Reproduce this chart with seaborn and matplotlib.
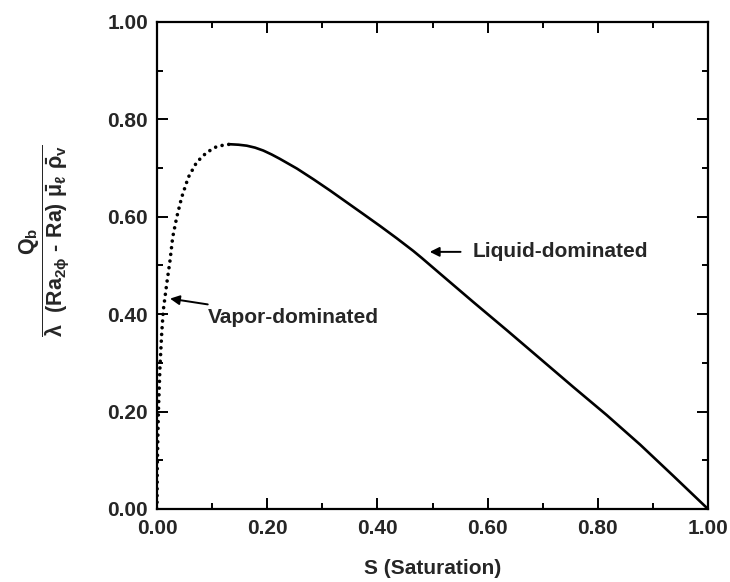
import matplotlib
matplotlib.use("Agg")
import matplotlib.pyplot as plt
import seaborn as sns
import numpy as np
import pandas as pd
from matplotlib.ticker import MultipleLocator, FormatStrFormatter

# ---- data ----
s_vapor = [0.0, 0.0005, 0.0024, 0.0054, 0.0085, 0.0114, 0.0176, 0.0236, 0.0285,
           0.0358, 0.0448, 0.0568, 0.072, 0.090, 0.108, 0.120, 0.132]
q_vapor = [0.0, 0.087, 0.196, 0.292, 0.360, 0.408, 0.462, 0.510, 0.558,
           0.599, 0.640, 0.681, 0.712, 0.732, 0.744, 0.747, 0.749]
s_liquid = [0.132, 0.148, 0.163, 0.178, 0.193, 0.208, 0.223, 0.254, 0.284,
            0.314, 0.344, 0.374, 0.405, 0.435, 0.465, 0.48, 0.514, 0.574,
            0.635, 0.695, 0.756, 0.816, 0.877, 0.937, 1.0]
q_liquid = [0.749, 0.748, 0.746, 0.742, 0.736, 0.728, 0.719, 0.699, 0.677,
            0.654, 0.630, 0.606, 0.581, 0.556, 0.530, 0.516, 0.483, 0.425,
            0.367, 0.309, 0.250, 0.193, 0.132, 0.068, 0.0]

x_label = "S (Saturation)"
y_label = (r"$\dfrac{Q_b}{\lambda\ \ (Ra_{2\phi}\ \text{-}\ Ra)\ "
           r"\bar{\mu}_\ell\ \bar{\rho}_v}$")
vapor_text = "Vapor-dominated"
liquid_text = "Liquid-dominated"

sns.set_style("ticks")
plt.rcParams["font.family"] = ["Liberation Sans", "DejaVu Sans"]
plt.rcParams["font.weight"] = "bold"
plt.rcParams["mathtext.fontset"] = "custom"
plt.rcParams["mathtext.rm"] = "Liberation Sans:bold"
plt.rcParams["mathtext.it"] = "Liberation Sans:bold"
plt.rcParams["mathtext.bf"] = "Liberation Sans:bold"

df_v = pd.DataFrame({"S": s_vapor, "Q": q_vapor})
df_l = pd.DataFrame({"S": s_liquid, "Q": q_liquid})

fig = plt.figure(figsize=(7.30, 5.82), dpi=100)
ax = fig.add_axes([157 / 730, 1 - 509 / 582, 551 / 730, 487 / 582])

sns.lineplot(data=df_v, x="S", y="Q", ax=ax, color="black", sort=False,
             estimator=None, linewidth=2.6, linestyle=(0, (0.01, 1.85)),
             dash_capstyle="round")
sns.lineplot(data=df_l, x="S", y="Q", ax=ax, color="black", sort=False,
             estimator=None, linewidth=1.9, solid_capstyle="round",
             solid_joinstyle="round")

ax.set_xlim(0, 1)
ax.set_ylim(0, 1)
ax.xaxis.set_major_locator(MultipleLocator(0.2))
ax.xaxis.set_minor_locator(MultipleLocator(0.1))
ax.yaxis.set_major_locator(MultipleLocator(0.2))
ax.yaxis.set_minor_locator(MultipleLocator(0.1))
ax.xaxis.set_major_formatter(FormatStrFormatter("%.2f"))
ax.yaxis.set_major_formatter(FormatStrFormatter("%.2f"))
ax.tick_params(which="both", direction="in", top=True, right=True,
               width=1.4, color="black")
ax.tick_params(which="major", length=8, labelsize=15, pad=6.5)
ax.tick_params(which="minor", length=4.5)
ax.tick_params(axis="x", which="major", pad=7)
for lab in ax.get_xticklabels() + ax.get_yticklabels():
    lab.set_fontweight("bold")
for sp in ax.spines.values():
    sp.set_linewidth(1.6)
    sp.set_color("black")

ax.set_xlabel(x_label, fontsize=15, fontweight="bold", labelpad=15)
ax.set_ylabel("")
ax.text(-0.205, 0.552, y_label, transform=ax.transAxes, rotation=90,
        ha="center", va="center", fontsize=15.5)

ax.annotate(vapor_text, xy=(0.0236, 0.432), xytext=(0.093, 0.393),
            fontsize=15, fontweight="bold", ha="left", va="center",
            arrowprops=dict(arrowstyle="-|>", color="black", lw=1.4,
                            shrinkA=2, shrinkB=0, mutation_scale=14))
ax.annotate(liquid_text, xy=(0.495, 0.528), xytext=(0.572, 0.528),
            fontsize=15, fontweight="bold", ha="left", va="center",
            arrowprops=dict(arrowstyle="-|>", color="black", lw=1.4,
                            shrinkA=6, shrinkB=0, mutation_scale=14))

fig.savefig("out.png", dpi=100)
